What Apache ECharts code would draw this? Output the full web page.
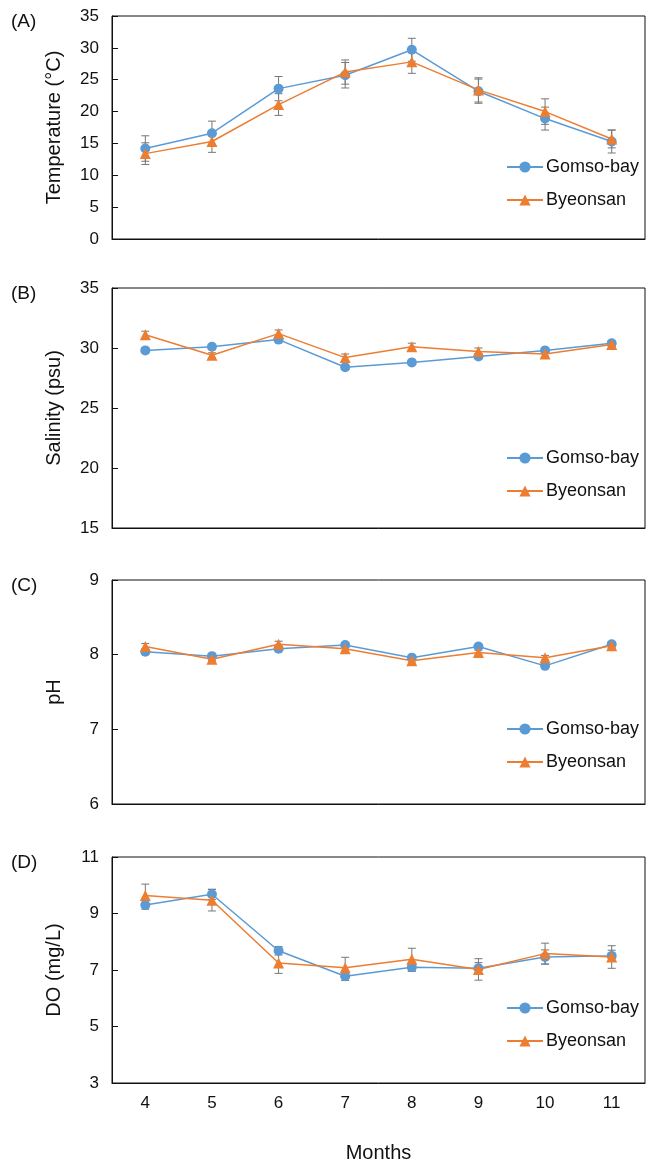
<!DOCTYPE html>
<html>
<head>
<meta charset="utf-8">
<script src="https://cdn.jsdelivr.net/npm/echarts@6.0.0/dist/echarts.min.js"></script>
<style>
  html, body { margin: 0; padding: 0; background: #fff; }
  #main { width: 660px; height: 1172px; }
</style>
</head>
<body>
<div id="main"></div>
<script>
// months on the x axis
var months = ['4', '5', '6', '7', '8', '9', '10', '11'];

// (A) temperature
var tempGomso = [14.2, 16.6, 23.6, 25.7, 29.7, 23.2, 18.9, 15.3];
var tempByeon = [13.4, 15.3, 21.1, 26.2, 27.8, 23.4, 20.0, 15.7];
var tempGomsoErr = [2.0, 1.9, 1.9, 2.0, 1.8, 1.9, 1.8, 1.8];
var tempByeonErr = [1.7, 1.7, 1.7, 1.9, 1.8, 1.9, 2.0, 1.4];

// (B) salinity
var salGomso = [29.8, 30.1, 30.7, 28.4, 28.8, 29.3, 29.8, 30.4];
var salByeon = [31.1, 29.4, 31.2, 29.2, 30.1, 29.7, 29.5, 30.3];
var salGomsoErr = [0.2, 0.2, 0.2, 0.2, 0.2, 0.2, 0.2, 0.2];
var salByeonErr = [0.3, 0.2, 0.3, 0.3, 0.3, 0.3, 0.2, 0.2];

// (C) pH
var phGomso = [8.04, 7.98, 8.08, 8.13, 7.96, 8.11, 7.85, 8.14];
var phByeon = [8.11, 7.94, 8.14, 8.08, 7.92, 8.03, 7.96, 8.12];
var phGomsoErr = [0.03, 0.02, 0.03, 0.03, 0.02, 0.03, 0.02, 0.03];
var phByeonErr = [0.04, 0.02, 0.04, 0.03, 0.02, 0.03, 0.03, 0.03];

// (D) dissolved oxygen
var doGomso = [9.30, 9.68, 7.68, 6.78, 7.10, 7.06, 7.46, 7.50];
var doByeon = [9.64, 9.47, 7.25, 7.08, 7.38, 7.02, 7.58, 7.46];
var doGomsoErr = [0.15, 0.18, 0.15, 0.15, 0.15, 0.2, 0.25, 0.2];
var doByeonErr = [0.4, 0.38, 0.37, 0.37, 0.39, 0.38, 0.37, 0.4];

// y axis ticks
var tempTicks = [0, 5, 10, 15, 20, 25, 30, 35];
var salTicks = [15, 20, 25, 30, 35];
var phTicks = [6, 7, 8, 9];
var doTicks = [3, 5, 7, 9, 11];

var FONT = 'Liberation Sans, Arial, sans-serif';
var BLUE = '#5B9BD5';
var ORANGE = '#ED7D31';

var panels = [
  { tag: '(A)', name: 'Temperature (\u00B0C)', ticks: tempTicks, g: tempGomso, b: tempByeon, ge: tempGomsoErr, be: tempByeonErr, top: 16, height: 223, legendTop: 157 },
  { tag: '(B)', name: 'Salinity (psu)', ticks: salTicks, g: salGomso, b: salByeon, ge: salGomsoErr, be: salByeonErr, top: 288, height: 240, legendTop: 448 },
  { tag: '(C)', name: 'pH', ticks: phTicks, g: phGomso, b: phByeon, ge: phGomsoErr, be: phByeonErr, top: 580, height: 224, legendTop: 719 },
  { tag: '(D)', name: 'DO (mg/L)', ticks: doTicks, g: doGomso, b: doByeon, ge: doGomsoErr, be: doByeonErr, top: 857, height: 226, legendTop: 998 }
];

function errData(vals, errs) {
  return vals.map(function (v, i) { return [i, v - errs[i], v + errs[i]]; });
}

function renderErr(params, api) {
  var x = api.value(0);
  var hi = api.coord([x, api.value(2)]);
  var lo = api.coord([x, api.value(1)]);
  var w = 4;
  var st = { stroke: '#777', lineWidth: 1 };
  return {
    type: 'group',
    children: [
      { type: 'line', shape: { x1: hi[0], y1: hi[1], x2: lo[0], y2: lo[1] }, style: st },
      { type: 'line', shape: { x1: hi[0] - w, y1: hi[1], x2: hi[0] + w, y2: hi[1] }, style: st },
      { type: 'line', shape: { x1: lo[0] - w, y1: lo[1], x2: lo[0] + w, y2: lo[1] }, style: st }
    ]
  };
}

var option = {
  animation: false,
  backgroundColor: '#fff',
  textStyle: { fontFamily: FONT, color: '#111' },
  title: [], grid: [], xAxis: [], yAxis: [], legend: [], series: []
};

panels.forEach(function (p, k) {
  var last = k === panels.length - 1;
  option.title.push({
    text: p.tag, left: 6, top: p.top - 9,
    textStyle: { fontFamily: FONT, fontSize: 19, fontWeight: 'normal', color: '#111' }
  });
  option.grid.push({
    left: 112, right: 15, top: p.top, height: p.height,
    show: true, borderColor: '#111', borderWidth: 1
  });
  option.xAxis.push({
    type: 'category', gridIndex: k, data: months, boundaryGap: true,
    axisLine: { lineStyle: { color: '#111', width: 1 } },
    axisTick: { inside: true, length: 6, lineStyle: { color: '#111' } },
    axisLabel: { show: last, fontFamily: FONT, fontSize: 17, color: '#111', margin: 12 },
    name: last ? 'Months' : '', nameLocation: 'middle', nameGap: 60,
    nameTextStyle: { fontFamily: FONT, fontSize: 20, color: '#111' }
  });
  option.yAxis.push({
    type: 'value', gridIndex: k,
    min: p.ticks[0], max: p.ticks[p.ticks.length - 1],
    splitLine: { show: false },
    axisLine: { show: true, lineStyle: { color: '#111', width: 1 } },
    axisTick: { show: true, inside: true, length: 6, lineStyle: { color: '#111' }, customValues: p.ticks },
    axisLabel: { fontFamily: FONT, fontSize: 17, color: '#111', margin: 13, customValues: p.ticks },
    name: p.name, nameLocation: 'middle', nameRotate: 90, nameGap: 48,
    nameTextStyle: { fontFamily: FONT, fontSize: 20, color: '#111' }
  });
  option.legend.push({
    orient: 'vertical', left: 506, top: p.legendTop + 1, padding: 0,
    itemWidth: 36, itemHeight: 14, itemGap: 15,
    data: ['Gomso-bay', 'Byeonsan'],
    textStyle: { fontFamily: FONT, fontSize: 18, color: '#111', padding: [0, 0, 0, -2] }
  });
  option.series.push({
    name: 'errG' + k, type: 'custom', xAxisIndex: k, yAxisIndex: k, z: 1,
    renderItem: renderErr, encode: { x: 0, y: [1, 2] }, data: errData(p.g, p.ge)
  });
  option.series.push({
    name: 'errB' + k, type: 'custom', xAxisIndex: k, yAxisIndex: k, z: 1,
    renderItem: renderErr, encode: { x: 0, y: [1, 2] }, data: errData(p.b, p.be)
  });
  option.series.push({
    name: 'Gomso-bay', type: 'line', xAxisIndex: k, yAxisIndex: k, z: 3,
    data: p.g, symbol: 'circle', symbolSize: 10,
    lineStyle: { color: BLUE, width: 1.5 }, itemStyle: { color: BLUE }
  });
  option.series.push({
    name: 'Byeonsan', type: 'line', xAxisIndex: k, yAxisIndex: k, z: 4,
    data: p.b, symbol: 'triangle', symbolSize: 11,
    lineStyle: { color: ORANGE, width: 1.5 }, itemStyle: { color: ORANGE }
  });
});

var myChart = echarts.init(document.getElementById('main'));
myChart.setOption(option);
</script>
</body>
</html>
